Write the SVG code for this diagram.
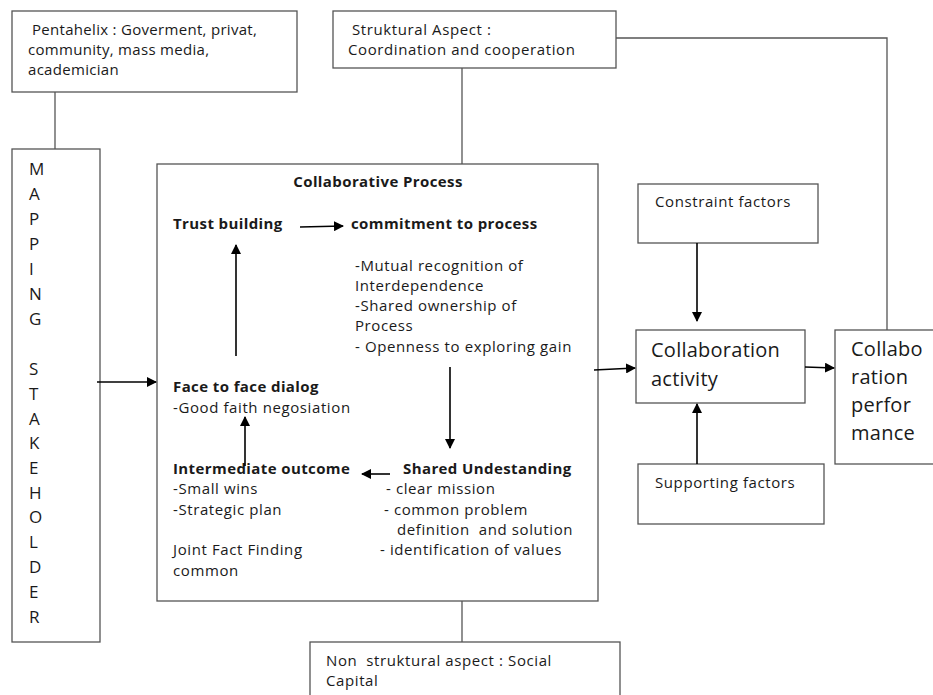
<svg xmlns="http://www.w3.org/2000/svg" width="933" height="695" viewBox="0 0 933 695">
<defs>
<style>
.box{fill:#fff;stroke:#555;stroke-width:1.3}
.ln{fill:none;stroke:#555;stroke-width:1.3}
.ar{fill:none;stroke:#000;stroke-width:1.6}
text{font-family:"Open Sans","Noto Sans",sans-serif;fill:#1a1a1a}
.t{font-size:15px;letter-spacing:0.6px}
.p{font-size:15px;letter-spacing:0.3px}
.b{font-size:15px;font-weight:bold;letter-spacing:0.4px}
.big{font-size:20px;letter-spacing:0.25px}
.m{font-size:17px}
</style>
<marker id="ah" viewBox="0 0 10 10" refX="9" refY="5" markerWidth="10" markerHeight="10" markerUnits="userSpaceOnUse" orient="auto">
<path d="M0,0 L10,5 L0,10 z" fill="#000"/>
</marker>
</defs>
<g id="pentahelix">
<rect class="box" x="12" y="11" width="285" height="81"/>
<text class="p" x="32" y="35">Pentahelix : Goverment, privat,</text>
<text class="p" x="28" y="55">community, mass media,</text>
<text class="p" x="28" y="75">academician</text>
</g>
<g id="struktural">
<rect class="box" x="333" y="11" width="283" height="57"/>
<text class="t" x="352" y="35">Struktural Aspect :</text>
<text class="t" x="348" y="55">Coordination and cooperation</text>
</g>
<g id="mapping">
<rect class="box" x="12" y="149" width="88" height="493"/>
<text class="m" x="29" y="175">M</text>
<text class="m" x="29" y="200">A</text>
<text class="m" x="29" y="225">P</text>
<text class="m" x="29" y="250">P</text>
<text class="m" x="29" y="275">I</text>
<text class="m" x="29" y="300">N</text>
<text class="m" x="29" y="325">G</text>
<text class="m" x="29" y="375">S</text>
<text class="m" x="29" y="400">T</text>
<text class="m" x="29" y="425">A</text>
<text class="m" x="29" y="449">K</text>
<text class="m" x="29" y="474">E</text>
<text class="m" x="29" y="499">H</text>
<text class="m" x="29" y="523">O</text>
<text class="m" x="29" y="548">L</text>
<text class="m" x="29" y="573">D</text>
<text class="m" x="29" y="598">E</text>
<text class="m" x="29" y="623">R</text>
</g>
<g id="collaborative-process">
<rect class="box" x="157" y="164" width="441" height="437"/>
<text class="b" x="378" y="187" text-anchor="middle">Collaborative Process</text>
<text class="b" x="173" y="229">Trust building</text>
<text class="b" x="351" y="229">commitment to process</text>
<text class="t" x="355" y="271">-Mutual recognition of</text>
<text class="t" x="355" y="291">Interdependence</text>
<text class="t" x="355" y="311">-Shared ownership of</text>
<text class="t" x="355" y="331">Process</text>
<text class="t" x="355" y="352">- Openness to exploring gain</text>
<text class="b" x="173" y="392">Face to face dialog</text>
<text class="t" x="173" y="413">-Good faith negosiation</text>
<text class="b" x="173" y="474">Intermediate outcome</text>
<text class="b" x="403" y="474">Shared Undestanding</text>
<text class="t" x="173" y="494">-Small wins</text>
<text class="t" x="173" y="515">-Strategic plan</text>
<text class="t" x="173" y="555">Joint Fact Finding</text>
<text class="t" x="173" y="576">common</text>
<text class="t" x="386" y="494">- clear mission</text>
<text class="t" x="384" y="515">- common problem</text>
<text class="t" x="397" y="535" xml:space="preserve">definition  and solution</text>
<text class="t" x="380" y="555">- identification of values</text>
</g>
<g id="non-struktural">
<rect class="box" x="310" y="642" width="310" height="60"/>
<text class="t" x="326" y="666" xml:space="preserve">Non  struktural aspect : Social</text>
<text class="t" x="326" y="686">Capital</text>
</g>
<g id="constraint">
<rect class="box" x="638" y="184" width="180" height="59"/>
<text class="t" x="655" y="207">Constraint factors</text>
</g>
<g id="activity">
<rect class="box" x="636" y="330" width="169" height="73"/>
<text class="big" x="651" y="357">Collaboration</text>
<text class="big" x="651" y="386">activity</text>
</g>
<g id="supporting">
<rect class="box" x="638" y="464" width="186" height="60"/>
<text class="t" x="655" y="488">Supporting factors</text>
</g>
<g id="performance">
<rect class="box" x="835" y="330" width="110" height="134"/>
<text class="big" x="851" y="356">Collabo</text>
<text class="big" x="851" y="384">ration</text>
<text class="big" x="851" y="412">perfor</text>
<text class="big" x="851" y="440">mance</text>
</g>
<g id="connectors">
<path class="ln" d="M55,92 V149"/>
<path class="ln" d="M462,68 V164"/>
<path class="ln" d="M616,38 H887 V330"/>
<path class="ln" d="M462,601 V642"/>
<path class="ar" d="M97,382 H156" marker-end="url(#ah)"/>
<path class="ar" d="M594,370 L635,368" marker-end="url(#ah)"/>
<path class="ar" d="M805,367 L834,368" marker-end="url(#ah)"/>
<path class="ar" d="M697,243 V321" marker-end="url(#ah)"/>
<path class="ar" d="M697,464 V404" marker-end="url(#ah)"/>
<path class="ar" d="M300,227 L343,226" marker-end="url(#ah)"/>
<path class="ar" d="M236,356 V245" marker-end="url(#ah)"/>
<path class="ar" d="M450,367 V448" marker-end="url(#ah)"/>
<path class="ar" d="M245,466 V417" marker-end="url(#ah)"/>
<path class="ar" d="M390,474 H362" marker-end="url(#ah)"/>
</g>
</svg>
